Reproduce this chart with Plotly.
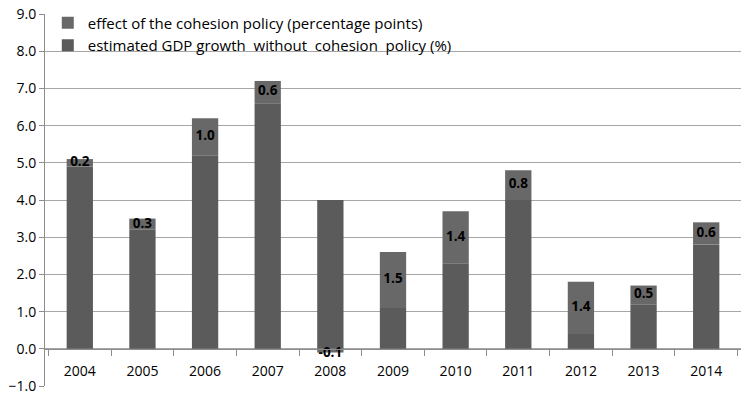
import plotly.graph_objects as go

years = ["2004", "2005", "2006", "2007", "2008", "2009", "2010", "2011", "2012", "2013", "2014"]
gdp_without = [4.9, 3.2, 5.2, 6.6, 4.0, 1.1, 2.3, 4.0, 0.4, 1.2, 2.8]
effect = [0.2, 0.3, 1.0, 0.6, -0.1, 1.5, 1.4, 0.8, 1.4, 0.5, 0.6]
y_ticks = [-1, 0, 1, 2, 3, 4, 5, 6, 7, 8, 9]

FONT = "Open Sans"
label_y = [(b if e > 0 else 0) + e / 2 for b, e in zip(gdp_without, effect)]
label_y = [v - 0.08 if e < 0 else v for v, e in zip(label_y, effect)]

fig = go.Figure()
fig.add_trace(go.Bar(
    x=years, y=gdp_without, name="estimated GDP growth  without  cohesion  policy (%)",
    marker=dict(color="#5b5b5b", line=dict(width=0)),
))
fig.add_trace(go.Bar(
    x=years, y=effect, name="effect of the cohesion policy (percentage points)",
    marker=dict(color="#686868", line=dict(width=0)),
))
fig.add_trace(go.Scatter(
    x=years, y=label_y, mode="text", text=[f"{v:.1f}" for v in effect],
    textfont=dict(family=FONT, size=13.5, color="black", weight="bold"),
    showlegend=False, hoverinfo="skip",
))

fig.update_layout(
    width=741, height=395,
    margin=dict(l=45, r=0, t=14, b=9),
    paper_bgcolor="white", plot_bgcolor="white",
    barmode="relative", bargap=0.58,
    font=dict(family=FONT, size=14, color="black"),
    legend=dict(
        x=0.004, y=1.02, xanchor="left", yanchor="top",
        traceorder="reversed", bgcolor="rgba(0,0,0,0)",
        font=dict(family=FONT, size=15, color="black"),
        itemwidth=30, tracegroupgap=0,
    ),
    xaxis=dict(
        anchor="free", position=0.1,
        showline=True, linecolor="#8c8c8c", linewidth=1,
        ticks="outside", tickson="boundaries", ticklen=6, tickcolor="#8c8c8c",
        showgrid=False, tickfont=dict(family=FONT, size=14),
        ticklabelstandoff=9,
    ),
    yaxis=dict(
        range=[-1, 9], tickvals=y_ticks, tickformat=".1f",
        showline=True, linecolor="#8c8c8c", linewidth=1,
        ticks="outside", ticklen=5, tickcolor="#8c8c8c",
        showgrid=True, gridcolor="#a6a6a6", gridwidth=1,
        zeroline=False, tickfont=dict(family=FONT, size=14),
    ),
)

fig.write_html("out.html")
